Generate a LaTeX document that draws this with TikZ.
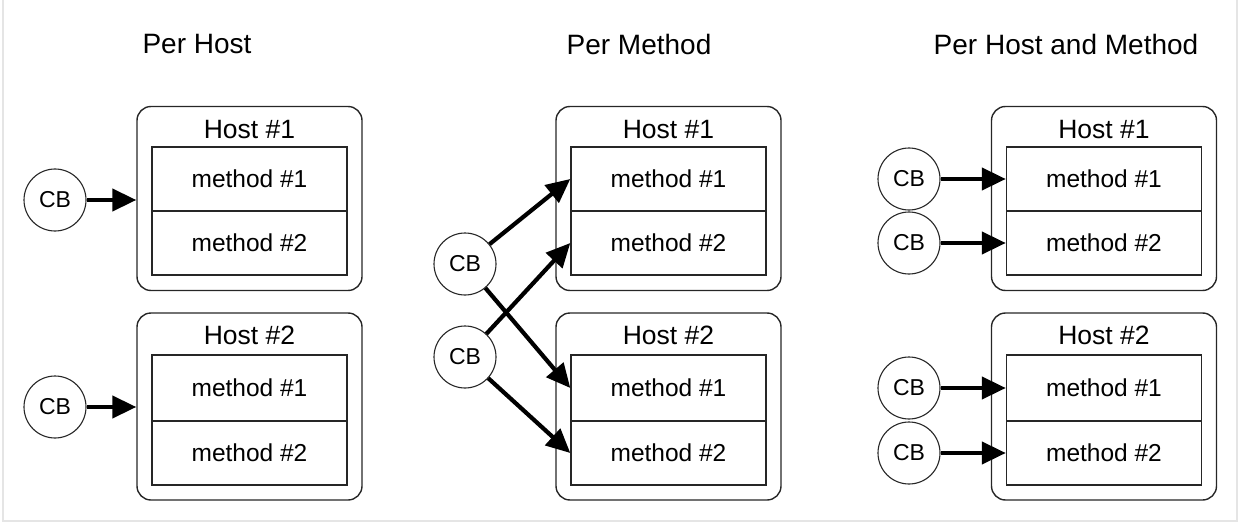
\documentclass[tikz,border=0pt]{standalone}
\usepackage{fontspec}
\setmainfont{Liberation Sans}
\usetikzlibrary{arrows.meta}
\begin{document}
\begin{tikzpicture}[x=1pt,y=-1pt,
  hostbox/.style={draw=black!85, rounded corners=14pt, line width=1.4pt, minimum width=225pt, minimum height=184pt, inner sep=0pt},
  methodbox/.style={draw=black!85, line width=1.4pt, minimum width=195pt, minimum height=64pt, inner sep=0pt, font=\fontsize{24.5}{26}\selectfont},
  cbnode/.style={draw=black!85, circle, line width=1.1pt, minimum size=62pt, inner sep=0pt, font=\fontsize{23}{24}\selectfont},
  paneltitle/.style={font=\fontsize{28}{30}\selectfont},
  hosttitle/.style={font=\fontsize{26.5}{28}\selectfont},
  link/.style={line width=4.2pt, -{Triangle[length=24pt,width=22pt]}},
]
\useasboundingbox (0,0) rectangle (1242,524);
% frame on three sides
\draw[line width=2pt, color=black!10] (2.5,0) -- (2.5,520.5) -- (1237,520.5) -- (1237,0);

% titles
\node[paneltitle] (t1) at (197,44) {Per Host};
\node[paneltitle] (t2) at (639,44) {Per Method};
\node[paneltitle] (t3) at (1066,44) {Per Host and Method};

% two hosts with two methods each, one column per strategy
\foreach \p/\x in {a/249.5, b/668.5, c/1104}{
  \node[hostbox] (\p h1) at (\x,198.5) {};
  \node[hosttitle] (\p h1t) at (\x,130) {Host \#1};
  \node[methodbox] (\p h1m1) at (\x,179) {method \#1};
  \node[methodbox] (\p h1m2) at (\x,243) {method \#2};
  \node[hostbox, minimum height=187pt] (\p h2) at (\x,406.5) {};
  \node[hosttitle] (\p h2t) at (\x,335) {Host \#2};
  \node[methodbox, minimum height=66pt] (\p h2m1) at (\x,388) {method \#1};
  \node[methodbox] (\p h2m2) at (\x,453) {method \#2};
}

% per host
\node[cbnode] (acb1) at (55,200) {CB};
\node[cbnode] (acb2) at (55,407) {CB};
\draw[link] (acb1) -- (acb1 -| ah1.west);
\draw[link] (acb2) -- (acb2 -| ah2.west);

% per method
\node[cbnode] (bcb1) at (465,264) {CB};
\node[cbnode] (bcb2) at (465,357) {CB};
\draw[link] (bcb1) -- (bh1m1.west);
\draw[link] (bcb1) -- (bh2m1.west);
\draw[link] (bcb2) -- (bh1m2.west);
\draw[link] (bcb2) -- (bh2m2.west);

% per host and method
\node[cbnode] (ccb1) at (909,179) {CB};
\node[cbnode] (ccb2) at (909,243) {CB};
\node[cbnode] (ccb3) at (909,388) {CB};
\node[cbnode] (ccb4) at (909,453) {CB};
\draw[link] (ccb1) -- (ch1m1.west);
\draw[link] (ccb2) -- (ch1m2.west);
\draw[link] (ccb3) -- (ch2m1.west);
\draw[link] (ccb4) -- (ch2m2.west);
\end{tikzpicture}
\end{document}
